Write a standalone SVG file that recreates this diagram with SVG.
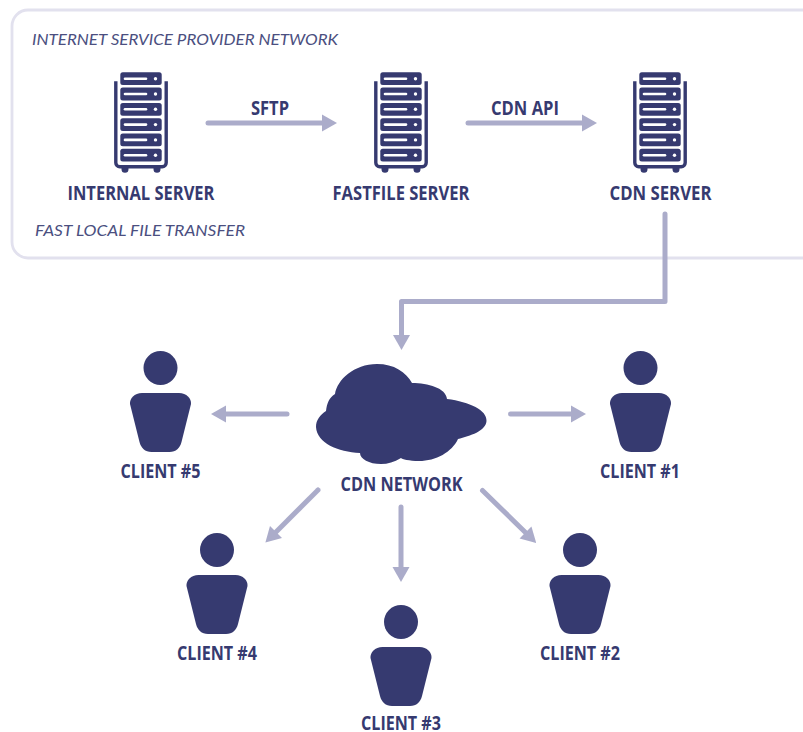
<svg xmlns="http://www.w3.org/2000/svg" width="803" height="732" viewBox="0 0 803 732">
<style>
.lbl{font-family:"Open Sans","Noto Sans","Liberation Sans",sans-serif;font-weight:700;font-size:19px;fill:#363a70;text-anchor:middle}
.note{font-family:"Lato","Open Sans","Liberation Sans",sans-serif;font-style:italic;font-size:16px;fill:#4b4f80}
.c{fill:none;stroke:#abacca;stroke-width:5;stroke-linecap:round;stroke-linejoin:round}
.h{fill:#abacca}
.d{fill:#363a70}
.w{fill:none;stroke:#fff;stroke-width:2.6;stroke-linecap:round}
</style>
<defs>
<g id="srv">
<path d="M-25.2 9V90.500a4 4 0 0 0 4 4H21.200a4 4 0 0 0 4-4V9" fill="none" stroke="#363a70" stroke-width="3.400"/>
<path class="d" d="M-19.500 94h7v3a3.500 3.500 0 0 1-7 0zM12.500 94h7v3a3.500 3.500 0 0 1-7 0z"/>
<g id="row"><rect class="d" x="-20.700" y="0" width="41.400" height="12.800" rx="2.500"/><path class="w" d="M-16 6.400H5"/><circle cx="14.500" cy="6.400" r="1.700" fill="#fff"/></g>
<use href="#row" y="15.300"/><use href="#row" y="30.600"/><use href="#row" y="45.900"/><use href="#row" y="61.200"/><use href="#row" y="76.500"/>
</g>
<g id="person">
<circle class="d" cx="0" cy="-25" r="17"/>
<path class="d" d="M-18.500 0H18.500C26 0 31 5.500 30.500 11L21 49C19.500 55 15.500 59 9 59H-9C-15.500 59-19.500 55-21 49L-30.500 11C-31 5.500-26 0-18.500 0Z"/>
</g>
<marker id="a" markerUnits="userSpaceOnUse" markerWidth="17" markerHeight="18" refX="2" refY="9" orient="auto"><path class="h" d="M2 .5L17 9L2 17.500Z"/></marker>
</defs>
<rect x="12" y="10" width="820" height="248" rx="16" fill="#fff" stroke="#e2e1ee" stroke-width="2.800"/>
<text class="note" x="32" y="45" textLength="306" lengthAdjust="spacingAndGlyphs">INTERNET SERVICE PROVIDER NETWORK</text>
<text class="note" x="35" y="236" textLength="210" lengthAdjust="spacingAndGlyphs">FAST LOCAL FILE TRANSFER</text>
<g id="connectors">
<path class="c" d="M208 123H322" marker-end="url(#a)"/>
<path class="c" d="M468 123H582" marker-end="url(#a)"/>
<path class="c" d="M665 214V301.500H401.500V335" marker-end="url(#a)"/>
<path class="c" d="M287 414H226" marker-end="url(#a)"/>
<path class="c" d="M510.500 414H571" marker-end="url(#a)"/>
<path class="c" d="M318 490L276 532" marker-end="url(#a)"/>
<path class="c" d="M401 507V567" marker-end="url(#a)"/>
<path class="c" d="M482.500 490.500L525.500 532.500" marker-end="url(#a)"/>
</g>
<text class="lbl" x="270" y="114.500" textLength="38" lengthAdjust="spacingAndGlyphs">SFTP</text>
<text class="lbl" x="525" y="114.500" textLength="68" lengthAdjust="spacingAndGlyphs">CDN API</text>
<g id="internal-server"><use href="#srv" x="141" y="72.300"/><text class="lbl" x="141" y="199.500" textLength="147" lengthAdjust="spacingAndGlyphs">INTERNAL SERVER</text></g>
<g id="fastfile-server"><use href="#srv" x="401" y="72.300"/><text class="lbl" x="401" y="199.500" textLength="137" lengthAdjust="spacingAndGlyphs">FASTFILE SERVER</text></g>
<g id="cdn-server"><use href="#srv" x="660" y="72.300"/><text class="lbl" x="660.500" y="199.500" textLength="102" lengthAdjust="spacingAndGlyphs">CDN SERVER</text></g>
<g id="cdn-network">
<path class="d" d="M326 411C327 403 329 398 335 394C337 380 354 364 377 364C394 364 406 372 412 383C428 383 446 388 447 399C470 402 487 410 486.500 421C486 431 470 436 458 439C452 452 436 461 419 461C409 461 402 459 401 458C394 462 388 464 381 464C369 464 360 459 360 453C338 452 317 443 316 427C316 420 320 415 326 411Z"/>
<text class="lbl" x="401.500" y="490.500" textLength="122" lengthAdjust="spacingAndGlyphs">CDN NETWORK</text>
</g>
<g id="client-5"><use href="#person" x="160.500" y="393"/><text class="lbl" x="160.500" y="477.500" textLength="80" lengthAdjust="spacingAndGlyphs">CLIENT #5</text></g>
<g id="client-1"><use href="#person" x="640.500" y="393"/><text class="lbl" x="640" y="477.500" textLength="80" lengthAdjust="spacingAndGlyphs">CLIENT #1</text></g>
<g id="client-4"><use href="#person" x="217" y="575"/><text class="lbl" x="217" y="659.500" textLength="80" lengthAdjust="spacingAndGlyphs">CLIENT #4</text></g>
<g id="client-2"><use href="#person" x="580" y="575"/><text class="lbl" x="580" y="659.500" textLength="80" lengthAdjust="spacingAndGlyphs">CLIENT #2</text></g>
<g id="client-3"><use href="#person" x="401" y="647"/><text class="lbl" x="401" y="730" textLength="80" lengthAdjust="spacingAndGlyphs">CLIENT #3</text></g>
</svg>
